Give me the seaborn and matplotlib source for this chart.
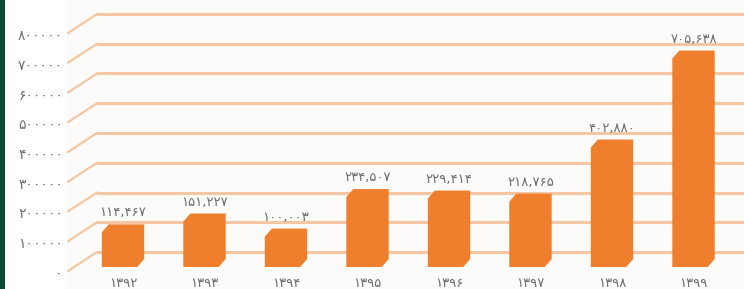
import matplotlib.pyplot as plt
import matplotlib.lines as mlines
import matplotlib.patches as mpatches
import matplotlib.transforms as mtransforms
import pandas as pd
import seaborn as sns

# --- data ---
years = ['۱۳۹۲', '۱۳۹۳', '۱۳۹۴', '۱۳۹۵', '۱۳۹۶', '۱۳۹۷', '۱۳۹۸', '۱۳۹۹']
values = [114467, 151227, 100003, 234507, 229414, 218765, 402880, 705638]
value_labels = ['۱۱۴,۴۶۷', '۱۵۱,۲۲۷', '۱۰۰,۰۰۳', '۲۳۴,۵۰۷', '۲۲۹,۴۱۴', '۲۱۸,۷۶۵', '۴۰۲,۸۸۰', '۷۰۵,۶۳۸']
y_ticks = [0, 100000, 200000, 300000, 400000, 500000, 600000, 700000, 800000]
y_tick_labels = ['۰', '۱۰۰۰۰۰', '۲۰۰۰۰۰', '۳۰۰۰۰۰', '۴۰۰۰۰۰', '۵۰۰۰۰۰', '۶۰۰۰۰۰', '۷۰۰۰۰۰', '۸۰۰۰۰۰']

df = pd.DataFrame({'year': years, 'value': values})

bar_color = '#EF7F2C'
grid_color = '#F5C6A2'
text_color = '#6E6E70'

sns.set_style('white')
plt.rcParams['font.family'] = ['DejaVu Sans']

W, H = 744, 289
fig = plt.figure(figsize=(W / 100, H / 100), dpi=100)
fig.patch.set_facecolor('white')

# background panel + green strip (behind everything)
fig.patches.append(mpatches.Rectangle((67 / W, 0), 1, 1, transform=fig.transFigure,
                                      facecolor='#FCFBFA', edgecolor='none', zorder=-5))
fig.patches.append(mpatches.Rectangle((0, 0), 5 / W, 1, transform=fig.transFigure,
                                      facecolor='#0B4A32', edgecolor='none', zorder=-5))

# axes in pixel layout (pixels from top): left 97, right 744, bottom 271
ax_left, ax_bottom = 97, 271
ax = fig.add_axes([ax_left / W, (H - ax_bottom) / H, (W - ax_left) / W, ax_bottom / H])
ax.set_facecolor('none')

# bar scale: zero at 258 px, 29.4 px per 100000
zero_px, px_per_unit = 258, 29.4 / 100000
ax.set_ylim(-(ax_bottom - zero_px) / px_per_unit, zero_px / px_per_unit)

sns.barplot(data=df, x='year', y='value', color=bar_color, width=0.52,
            saturation=1, ax=ax, zorder=3)
spacing = 81.5
ax.set_xlim((ax_left - 123) / spacing, (W - 123) / spacing)

# fake 3D: extend bars downward and bevel top-left / bottom-right corners
depth = 9 / px_per_unit
cx = 7 / spacing          # chamfer width (data units)
cy = 8 / px_per_unit      # chamfer height (data units)
for p in ax.patches:
    x0, w = p.get_x(), p.get_width()
    y0, y1 = -depth, p.get_height()
    poly = mpatches.Polygon(
        [(x0, y0), (x0 + w - cx, y0), (x0 + w, y0 + cy), (x0 + w, y1),
         (x0 + cx, y1), (x0, y1 - cy)],
        closed=True, facecolor=bar_color, edgecolor='none', zorder=3)
    ax.add_patch(poly)
    p.set_visible(False)

# back-wall gridlines (wall sits slightly higher and a touch tighter)
grid_step_px = (252 - 14) / 8
grid_shifts = []
for k, v in enumerate(y_ticks):
    shift = (zero_px - 252) + k * (grid_step_px - 29.4)
    ln = ax.axhline(v, color=grid_color, lw=2.2, zorder=1)
    ln.set_transform(ln.get_transform() + mtransforms.Affine2D().translate(0, shift))
    grid_shifts.append(shift)

# value labels
for i, (v, lab) in enumerate(zip(values, value_labels)):
    ax.annotate(lab, (i, v), xytext=(0, 5), textcoords='offset pixels',
                ha='center', va='bottom', fontsize=9.5, color=text_color, zorder=5)

for s in ax.spines.values():
    s.set_visible(False)
ax.set_yticks([])
ax.set_xlabel('')
ax.set_ylabel('')
ax.set_xticks(range(len(years)), years)
ax.tick_params(axis='x', length=0, pad=4.5, labelsize=9.5, labelcolor=text_color)

# perspective segments + front tick labels
fig.canvas.draw()
for v, lab, shift in zip(y_ticks, y_tick_labels, grid_shifts):
    yb = ax.transData.transform((0, v))[1] + shift
    diag = mlines.Line2D([68, ax_left], [yb - 19, yb], color=grid_color, lw=1.6,
                         transform=None, zorder=-1)
    fig.lines.append(diag)
    fig.text(63 / W, (yb - 22) / H, lab, ha='right', va='center', fontsize=10,
             color=text_color)

fig.savefig('out.png', dpi=100, facecolor='white')
